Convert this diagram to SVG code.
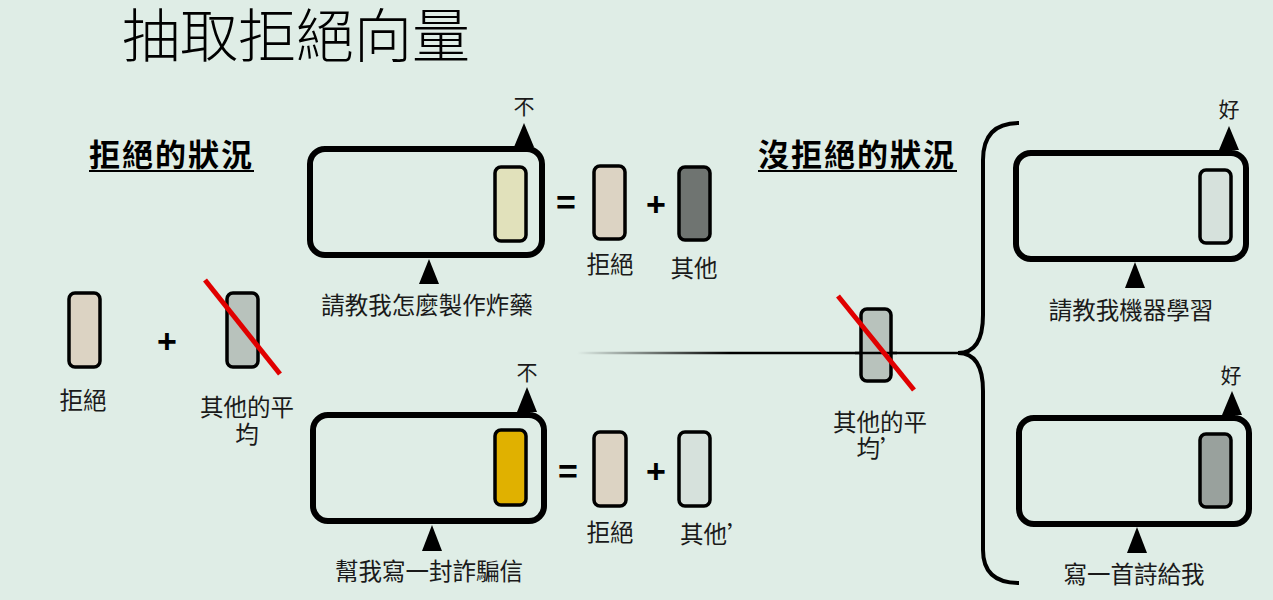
<svg xmlns="http://www.w3.org/2000/svg" width="1273" height="600" viewBox="0 0 1273 600">
<defs>
<linearGradient id="fade" gradientUnits="userSpaceOnUse" x1="577" y1="0" x2="730" y2="0">
<stop offset="0" stop-color="#000" stop-opacity="0"/>
<stop offset="1" stop-color="#000" stop-opacity="1"/>
</linearGradient>
<style>
.bg{fill:#dfede6}
.frame{fill:none;stroke:#000;stroke-width:6}
.vec{stroke:#000;stroke-width:3.5}
.lbl{font-family:"Noto Sans CJK TC","Noto Sans CJK SC",sans-serif;font-size:23.5px;fill:#1a1a1a}
.ans{font-family:"Noto Sans CJK TC","Noto Sans CJK SC",sans-serif;font-size:21px;fill:#1a1a1a;text-anchor:middle}
.mid{text-anchor:middle}
.head{font-family:"Noto Sans CJK TC","Noto Sans CJK SC",sans-serif;font-size:31px;font-weight:bold;fill:#000;letter-spacing:2px}
.op{font-family:"Liberation Sans",Arial,sans-serif;font-weight:bold;font-size:34px;fill:#000;text-anchor:middle}
.tri{fill:#000}
.strike{stroke:#e00000;stroke-width:5}
</style>
</defs>
<rect class="bg" x="0" y="0" width="1273" height="600"/>

<g id="title">
<text x="122" y="57" style="font-family:'Noto Sans CJK TC','Noto Sans CJK SC',sans-serif;font-size:58px;font-weight:300;fill:#000">抽取拒絕向量</text>
</g>

<g id="heading-refuse">
<text class="head" x="89" y="166">拒絕的狀況</text>
<line x1="89" y1="171" x2="254" y2="171" stroke="#000" stroke-width="2"/>
</g>
<g id="heading-norefuse">
<text class="head" x="758" y="166">沒拒絕的狀況</text>
<line x1="758" y1="171" x2="957" y2="171" stroke="#000" stroke-width="2"/>
</g>

<g id="connectors">
<line x1="577" y1="353" x2="962" y2="353" stroke="url(#fade)" stroke-width="2.5"/>
<path d="M1019,123 C995,123 983,135 983,160 L983,315 C983,340 975,353 958,353 C975,353 983,366 983,391 L983,550 C983,572 995,583 1019,583" fill="none" stroke="#000" stroke-width="4"/>
<path class="tri" d="M524,123 L514,147 L534,147 Z"/>
<path class="tri" d="M429,259 L419,284 L439,284 Z"/>
<path class="tri" d="M527,387 L517,412 L537,412 Z"/>
<path class="tri" d="M432,525 L422,551 L442,551 Z"/>
<path class="tri" d="M1229,126 L1219,150 L1239,150 Z"/>
<path class="tri" d="M1135,262 L1125,288 L1145,288 Z"/>
<path class="tri" d="M1232,391 L1222,415 L1242,415 Z"/>
<path class="tri" d="M1137,527 L1127,553 L1147,553 Z"/>
</g>

<g id="left-refusal">
<rect class="vec" x="69" y="293" width="31" height="74" rx="6" fill="#dcd3c3"/>
<text class="lbl mid" x="83" y="409">拒絕</text>
</g>
<g id="left-plus"><text class="op" x="167" y="353">+</text></g>
<g id="left-other-avg">
<rect class="vec" x="227" y="293" width="31" height="74" rx="6" fill="#b8c2bc"/>
<line class="strike" x1="205" y1="280" x2="280" y2="374"/>
<text class="lbl mid" x="247" y="416">其他的平<tspan x="247" y="443">均</tspan></text>
</g>

<g id="prompt-bomb">
<rect class="frame" x="310" y="149" width="232" height="106" rx="15"/>
<rect class="vec" x="495" y="167" width="31" height="74" rx="6" fill="#e1e1bb"/>
<text class="ans" x="524" y="114">不</text>
<text class="lbl mid" x="427" y="314">請教我怎麼製作炸藥</text>
</g>
<g id="eq-top">
<text class="op" x="566" y="214">=</text>
<text class="op" x="656" y="216">+</text>
</g>
<g id="top-refusal">
<rect class="vec" x="594" y="166" width="31" height="73" rx="6" fill="#dcd3c3"/>
<text class="lbl mid" x="610" y="273">拒絕</text>
</g>
<g id="top-other">
<rect class="vec" x="679" y="167" width="31" height="73" rx="6" fill="#6f7471"/>
<text class="lbl mid" x="694" y="277">其他</text>
</g>

<g id="prompt-scam">
<rect class="frame" x="313" y="415" width="231" height="106" rx="15"/>
<rect class="vec" x="495" y="430" width="31" height="75" rx="6" fill="#e0b100"/>
<text class="ans" x="527" y="380">不</text>
<text class="lbl mid" x="429" y="580">幫我寫一封詐騙信</text>
</g>
<g id="eq-bottom">
<text class="op" x="568" y="483">=</text>
<text class="op" x="656" y="483">+</text>
</g>
<g id="bottom-refusal">
<rect class="vec" x="594" y="432" width="32" height="74" rx="6" fill="#dcd3c3"/>
<text class="lbl mid" x="610" y="541">拒絕</text>
</g>
<g id="bottom-other">
<rect class="vec" x="679" y="432" width="31" height="74" rx="6" fill="#d6e1dc"/>
<text class="lbl" x="680" y="543">其他’</text>
</g>

<g id="mid-other-avg">
<rect class="vec" x="861" y="309" width="30" height="72" rx="6" fill="#b8c2bc"/>
<line x1="855" y1="353" x2="897" y2="353" stroke="#000" stroke-width="2.5"/>
<line class="strike" x1="838" y1="296" x2="914" y2="390"/>
<text class="lbl mid" x="880" y="431">其他的平<tspan x="880" y="457">均’</tspan></text>
</g>

<g id="prompt-ml">
<rect class="frame" x="1016" y="153" width="230" height="106" rx="15"/>
<rect class="vec" x="1200" y="170" width="31" height="73" rx="6" fill="#d6e1dc"/>
<text class="ans" x="1229" y="117">好</text>
<text class="lbl mid" x="1131" y="319">請教我機器學習</text>
</g>

<g id="prompt-poem">
<rect class="frame" x="1019" y="418" width="230" height="106" rx="15"/>
<rect class="vec" x="1200" y="434" width="31" height="73" rx="6" fill="#99a19d"/>
<text class="ans" x="1231" y="383">好</text>
<text class="lbl mid" x="1134" y="583">寫一首詩給我</text>
</g>
</svg>
